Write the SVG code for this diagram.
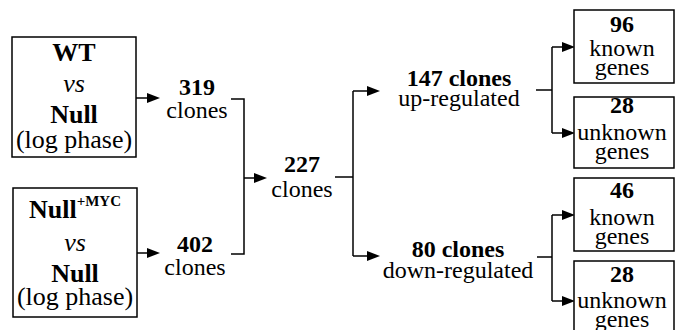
<svg xmlns="http://www.w3.org/2000/svg" width="675" height="330" viewBox="0 0 675 330">
<rect width="675" height="330" fill="#fff"/>
<g id="connectors" fill="none" stroke="#000" stroke-width="1.5">
<path d="M136,98 H150"/>
<path d="M137,253 H150"/>
<path d="M231,99 H244 V254 H231"/>
<path d="M244,178 H256"/>
<path d="M335,177 H353"/>
<path d="M353,91 V256"/>
<path d="M353,91 H369"/>
<path d="M353,256 H369"/>
<path d="M536,90 H552"/>
<path d="M552,47 V133"/>
<path d="M552,47 H564"/>
<path d="M552,133 H564"/>
<path d="M537,257 H552"/>
<path d="M552,215 V301"/>
<path d="M552,215 H564"/>
<path d="M552,301 H564"/>
<g fill="#000" stroke="none">
<polygon points="147,93 160,98 147,103"/>
<polygon points="147,248 160,253 147,258"/>
<polygon points="254,173 267,178 254,183"/>
<polygon points="367,86 380,91 367,96"/>
<polygon points="367,251 380,256 367,261"/>
<polygon points="562,42 575,47 562,52"/>
<polygon points="562,128 575,133 562,138"/>
<polygon points="562,210 575,215 562,220"/>
<polygon points="562,296 575,301 562,306"/>
</g>
</g>
<g id="wt-vs-null">
<rect x="12" y="37" width="124" height="120" fill="#fff" stroke="#000" stroke-width="1.5"/>
<text font-family="Liberation Serif" text-anchor="middle" font-size="26" font-weight="bold" x="74" y="61">WT</text>
<text font-family="Liberation Serif" text-anchor="middle" font-size="26" font-style="italic" x="74" y="92">vs</text>
<text font-family="Liberation Serif" text-anchor="middle" font-size="26" font-weight="bold" x="74" y="123">Null</text>
<text font-family="Liberation Serif" text-anchor="middle" font-size="26" x="74" y="148">(log phase)</text>
</g>
<g id="nullmyc-vs-null">
<rect x="13" y="188" width="124" height="129" fill="#fff" stroke="#000" stroke-width="1.5"/>
<text font-family="Liberation Serif" text-anchor="middle" font-size="26" font-weight="bold" x="75" y="218">Null<tspan font-size="15" dy="-12">+MYC</tspan></text>
<text font-family="Liberation Serif" text-anchor="middle" font-size="26" font-style="italic" x="75" y="251">vs</text>
<text font-family="Liberation Serif" text-anchor="middle" font-size="26" font-weight="bold" x="75" y="282">Null</text>
<text font-family="Liberation Serif" text-anchor="middle" font-size="26" x="75" y="305">(log phase)</text>
</g>
<g id="c319">
<text font-family="Liberation Serif" text-anchor="middle" font-size="24" font-weight="bold" x="197" y="95">319</text>
<text font-family="Liberation Serif" text-anchor="middle" font-size="24" x="197" y="118">clones</text>
</g>
<g id="c402">
<text font-family="Liberation Serif" text-anchor="middle" font-size="24" font-weight="bold" x="195" y="252">402</text>
<text font-family="Liberation Serif" text-anchor="middle" font-size="24" x="195" y="275">clones</text>
</g>
<g id="c227">
<text font-family="Liberation Serif" text-anchor="middle" font-size="24" font-weight="bold" x="302" y="172">227</text>
<text font-family="Liberation Serif" text-anchor="middle" font-size="24" x="302" y="197">clones</text>
</g>
<g id="up">
<text font-family="Liberation Serif" text-anchor="middle" font-size="24" font-weight="bold" x="459" y="86">147 clones</text>
<text font-family="Liberation Serif" text-anchor="middle" font-size="24" x="459" y="106">up-regulated</text>
</g>
<g id="down">
<text font-family="Liberation Serif" text-anchor="middle" font-size="24" font-weight="bold" x="458" y="257">80 clones</text>
<text font-family="Liberation Serif" text-anchor="middle" font-size="24" x="458" y="278">down-regulated</text>
</g>
<g id="up-known">
<rect x="574" y="10" width="100" height="73" fill="#fff" stroke="#000" stroke-width="1.5"/>
<text font-family="Liberation Serif" text-anchor="middle" font-size="24" font-weight="bold" x="622" y="32">96</text>
<text font-family="Liberation Serif" text-anchor="middle" font-size="24" x="622" y="56">known</text>
<text font-family="Liberation Serif" text-anchor="middle" font-size="24" x="622" y="75">genes</text>
</g>
<g id="up-unknown">
<rect x="574" y="97" width="100" height="71" fill="#fff" stroke="#000" stroke-width="1.5"/>
<text font-family="Liberation Serif" text-anchor="middle" font-size="24" font-weight="bold" x="622" y="113">28</text>
<text font-family="Liberation Serif" text-anchor="middle" font-size="24" x="622" y="140">unknown</text>
<text font-family="Liberation Serif" text-anchor="middle" font-size="24" x="622" y="159">genes</text>
</g>
<g id="down-known">
<rect x="574" y="178" width="100" height="73" fill="#fff" stroke="#000" stroke-width="1.5"/>
<text font-family="Liberation Serif" text-anchor="middle" font-size="24" font-weight="bold" x="622" y="198">46</text>
<text font-family="Liberation Serif" text-anchor="middle" font-size="24" x="622" y="225">known</text>
<text font-family="Liberation Serif" text-anchor="middle" font-size="24" x="622" y="244">genes</text>
</g>
<g id="down-unknown">
<rect x="574" y="261" width="100" height="80" fill="#fff" stroke="#000" stroke-width="1.5"/>
<text font-family="Liberation Serif" text-anchor="middle" font-size="24" font-weight="bold" x="622" y="282">28</text>
<text font-family="Liberation Serif" text-anchor="middle" font-size="24" x="622" y="308">unknown</text>
<text font-family="Liberation Serif" text-anchor="middle" font-size="24" x="622" y="327">genes</text>
</g>
</svg>
